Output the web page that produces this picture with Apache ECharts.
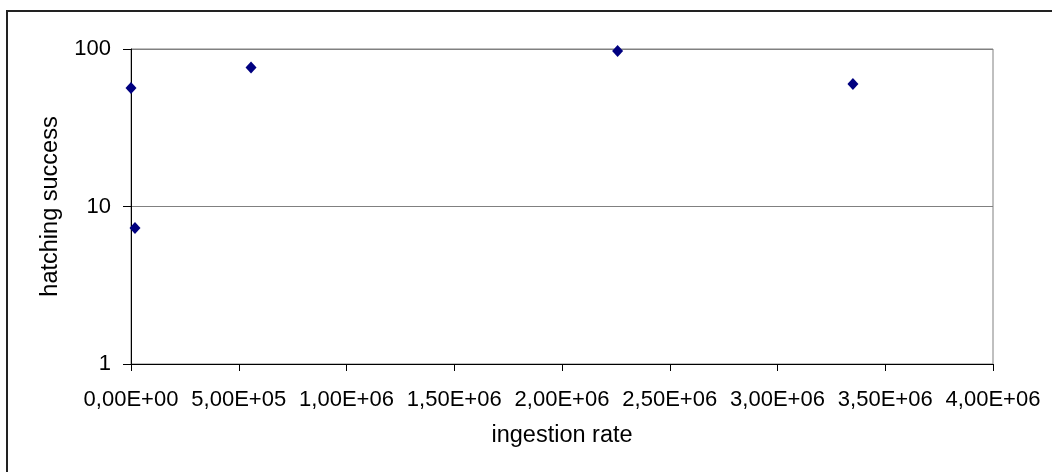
<!DOCTYPE html>
<html>
<head>
<meta charset="utf-8">
<script src="https://cdn.jsdelivr.net/npm/echarts@6/dist/echarts.min.js"></script>
<style>html,body{margin:0;padding:0;background:#fff}#c{width:1052px;height:472px}</style>
</head>
<body>
<div id="c"></div>
<script>
const ingestionRate = [0, 18500, 557000, 2258000, 3350000];
const hatchingSuccess = [56.5, 7.3, 76.4, 97.1, 59.9];
const xAxisName = 'ingestion rate';
const yAxisName = 'hatching success';

function sci(v) {
  if (v === 0) return '0,00E+00';
  const e = Math.floor(Math.log10(Math.abs(v)) + 1e-9);
  const m = v / Math.pow(10, e);
  const es = (e < 0 ? '-' : '+') + String(Math.abs(e)).padStart(2, '0');
  return m.toFixed(2).replace('.', ',') + 'E' + es;
}

const chart = echarts.init(document.getElementById('c'), null, {renderer: 'canvas'});
const font = 'Liberation Sans, Arial, sans-serif';
chart.setOption({
  animation: false,
  backgroundColor: '#fff',
  graphic: [{
    type: 'rect', shape: {x: 7, y: 11, width: 1100, height: 520},
    style: {fill: 'none', stroke: '#222', lineWidth: 2}, silent: true, z: -1
  }],
  grid: {left: 131, top: 49, right: 59, bottom: 108, show: true, borderColor: '#808080', borderWidth: 1},
  xAxis: {
    type: 'value', min: 0, max: 4000000, interval: 500000,
    name: xAxisName, nameLocation: 'middle', nameGap: 60,
    nameTextStyle: {fontFamily: font, fontSize: 23.5, color: '#000'},
    axisLine: {show: true, onZero: false, lineStyle: {color: '#000', width: 1}},
    axisTick: {show: true, length: 7, lineStyle: {color: '#000'}},
    axisLabel: {fontFamily: font, fontSize: 22, color: '#000', margin: 25, formatter: sci},
    splitLine: {show: false}
  },
  yAxis: {
    type: 'log', logBase: 10, min: 1, max: 100,
    name: yAxisName, nameLocation: 'middle', nameGap: 68,
    nameTextStyle: {fontFamily: font, fontSize: 23.5, color: '#000'},
    axisLine: {show: true, lineStyle: {color: '#000', width: 1}},
    axisTick: {show: true, length: 8, lineStyle: {color: '#000'}},
    axisLabel: {fontFamily: font, fontSize: 22, color: '#000', margin: 20},
    splitLine: {show: true, lineStyle: {color: '#808080', width: 1}},
    minorTick: {show: false}
  },
  series: [{
    type: 'scatter',
    data: ingestionRate.map((x, i) => [x, hatchingSuccess[i]]),
    symbol: 'diamond', symbolSize: [11, 12],
    itemStyle: {color: '#000080', opacity: 1}
  }]
});
</script>
</body>
</html>
